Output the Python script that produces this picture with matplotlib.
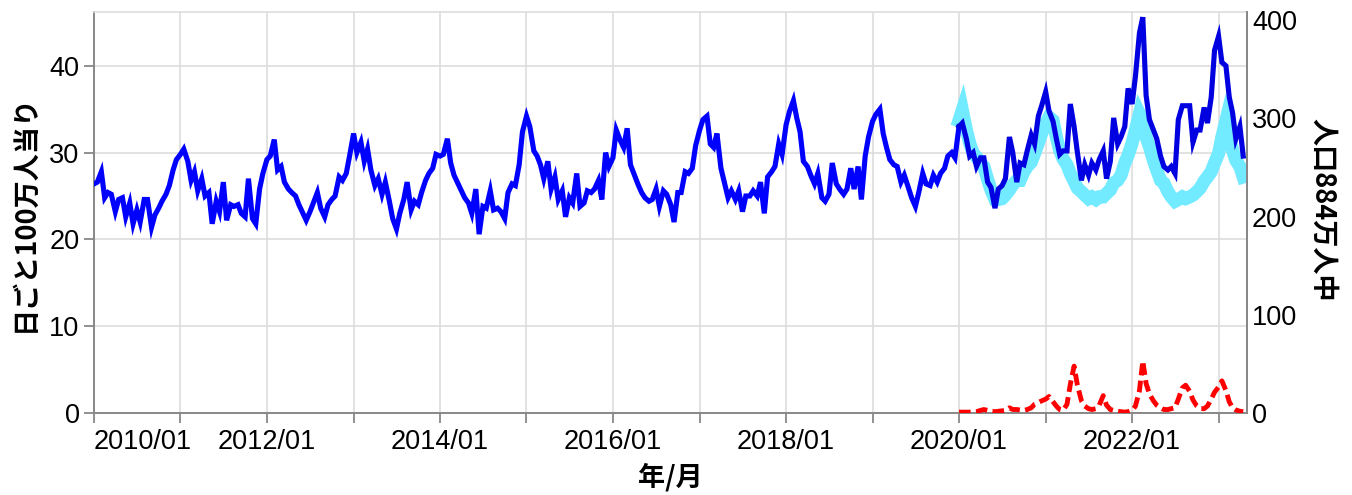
import matplotlib
matplotlib.use("Agg")
import matplotlib.pyplot as plt
import pandas as pd

# ---------------------------------------------------------------------------
# Data (semi-monthly samples, per million per day)
# ---------------------------------------------------------------------------

# all-cause deaths, 2010/01 .. 2019/12 (24 samples per year)
blue_pre = [
    26.4, 26.6, 27.8, 24.8, 25.4, 25.2, 23.2, 24.6, 24.8, 22.6, 24.2, 21.8,
    23.4, 22.0, 24.6, 24.6, 21.4, 22.8, 23.6, 24.4, 25.2, 26.2, 28.0, 29.2,
    29.8, 30.4, 29.0, 26.8, 27.8, 25.6, 27.0, 25.0, 25.4, 21.8, 24.4, 23.2,
    26.6, 22.2, 24.0, 23.8, 24.0, 23.0, 22.6, 27.0, 22.4, 21.8, 25.8, 27.6,
    29.2, 29.6, 31.5, 28.0, 28.4, 26.6, 25.8, 25.4, 25.0, 24.0, 23.0, 22.2,
    23.2, 24.2, 25.4, 23.6, 22.6, 24.0, 24.6, 25.0, 27.2, 26.8, 27.6, 29.6,
    32.2, 30.0, 31.2, 29.0, 30.4, 28.0, 26.2, 27.0, 25.2, 26.6, 24.4, 22.4,
    21.2, 23.0, 24.6, 26.6, 23.4, 24.4, 24.0, 25.4, 26.8, 27.6, 28.2, 29.8,
    29.6, 29.8, 31.6, 28.8, 27.4, 26.6, 25.6, 24.8, 24.2, 23.0, 25.8, 20.6,
    23.8, 23.6, 25.6, 23.4, 23.6, 23.2, 22.4, 25.4, 26.4, 26.2, 28.6, 32.4,
    34.2, 33.0, 30.2, 29.6, 28.6, 27.0, 29.0, 25.8, 27.2, 24.6, 25.6, 22.6,
    24.8, 24.2, 27.6, 23.8, 24.2, 25.6, 25.4, 25.8, 26.8, 24.6, 30.0, 28.4,
    29.4, 32.6, 31.4, 30.6, 32.8, 28.6, 27.4, 26.4, 25.4, 24.8, 24.4, 24.6,
    25.8, 23.8, 25.6, 25.2, 24.0, 22.0, 25.4, 25.4, 27.8, 27.6, 28.2, 30.8,
    32.6, 33.8, 34.2, 31.0, 30.6, 32.2, 28.2, 26.6, 24.8, 25.6, 24.6, 25.6,
    23.2, 25.0, 25.0, 25.6, 25.0, 26.6, 23.0, 27.2, 27.8, 28.4, 31.0, 29.8,
    33.2, 34.7, 36.0, 34.0, 32.4, 29.0, 28.4, 27.4, 26.4, 27.6, 24.8, 24.4,
    25.2, 28.8, 26.4, 25.8, 25.2, 25.8, 28.2, 25.8, 28.4, 24.6, 29.6, 31.8,
    33.6, 34.4, 35.0, 32.2, 30.6, 29.2, 28.6, 28.4, 26.6, 27.4, 26.0, 24.8,
    23.8, 25.4, 27.6, 26.4, 26.2, 27.4, 26.6, 27.6, 28.2, 29.6, 30.0, 29.4,
]

# all-cause deaths, 2020/01 .. 2023/04
blue_post = [
    33.0, 33.4, 31.6, 29.6, 30.0, 28.4, 29.4, 29.4, 26.6, 26.0, 23.6, 25.8,
    26.2, 27.0, 31.8, 30.0, 26.6, 28.8, 28.6, 30.2, 32.0, 31.0, 34.2, 35.4,
    37.0, 34.8, 33.6, 31.6, 29.8, 30.2, 30.2, 35.6, 33.0, 30.0, 26.8, 28.6,
    27.4, 28.8, 28.0, 29.2, 30.2, 27.0, 29.0, 34.0, 31.0, 31.8, 33.0, 37.4,
    35.6, 38.8, 43.8, 45.6, 36.6, 33.8, 32.6, 31.6, 29.6, 28.4, 28.0, 28.4,
    27.6, 33.8, 35.4, 35.4, 35.4, 31.2, 32.6, 32.6, 35.2, 33.4, 36.4, 41.8,
    43.4, 40.4, 40.0, 36.4, 34.6, 31.6, 33.0, 29.6,
]

# expected deaths (baseline), 2020/01 .. 2023/04
cyan_base = [
    33.7, 34.9, 32.6, 31.1, 29.9, 29.5, 28.8, 28.4, 26.9, 25.7, 24.6, 24.6,
    24.7, 25.1, 25.7, 26.3, 26.8, 26.8, 27.8, 28.4, 28.9, 29.9, 31.1, 32.2,
    33.4, 34.1, 33.7, 31.8, 30.3, 29.3, 28.6, 27.6, 26.7, 25.9, 25.5, 25.1,
    24.7, 24.9, 24.6, 24.9, 24.9, 25.3, 25.7, 26.5, 26.8, 27.4, 28.8, 29.7,
    31.1, 32.6, 34.5, 33.7, 31.8, 30.7, 29.1, 28.0, 26.8, 26.5, 25.5, 24.9,
    24.4, 24.6, 24.9, 24.7, 24.9, 25.1, 25.5, 25.9, 26.7, 27.2, 27.8, 28.8,
    29.9, 31.8, 33.7, 32.2, 30.3, 29.1, 28.4, 27.2,
]

# covid deaths, 2020/01 .. 2023/04
red_covid = [
    0.1, 0.1, 0.1, 0.1, 0.1, 0.15, 0.3, 0.4, 0.3, 0.2, 0.15, 0.2,
    0.25, 0.3, 0.6, 0.4, 0.4, 0.35, 0.3, 0.4, 0.6, 1.0, 1.2, 1.4,
    1.6, 1.9, 1.3, 0.8, 0.4, 0.3, 1.0, 3.3, 5.4, 3.2, 1.4, 0.8,
    0.5, 0.4, 0.5, 0.9, 2.0, 0.9, 0.4, 0.3, 0.2, 0.15, 0.1, 0.15,
    0.3, 0.8, 2.6, 6.0, 3.4, 2.2, 1.4, 0.9, 0.6, 0.4, 0.4, 0.5,
    0.6, 1.6, 2.9, 3.2, 2.5, 1.5, 0.8, 0.5, 0.5, 0.8, 1.6, 2.4,
    3.0, 3.7, 2.6, 1.3, 0.6, 0.35, 0.2, 0.15,
]

POPULATION_FACTOR = 8.84      # right axis = left axis * 8.84
Y_TOP = 46.2

years = list(range(2010, 2024))
year_labels = [f"{y}/01" if y % 2 == 0 else "" for y in years]

# ---------------------------------------------------------------------------
# Figure
# ---------------------------------------------------------------------------
W, H, DPI = 1352, 495, 100
fig = plt.figure(figsize=(W / DPI, H / DPI), dpi=DPI)
ax = fig.add_axes([94 / W, 1 - 413 / H, (1247 - 94) / W, (413 - 12) / H])

blue_all = blue_pre + blue_post
dates_all = pd.date_range("2010-01-01", periods=len(blue_all), freq="SMS")
dates_post = pd.date_range("2020-01-01", periods=len(blue_post), freq="SMS")
n_pre = len(blue_pre)

ax.plot(dates_post, cyan_base, color="#72eaff", lw=9.5, solid_joinstyle="miter",
        zorder=2)
ax.plot(dates_all[:n_pre + 1], blue_all[:n_pre + 1], color="#0000ff", lw=3.7,
        solid_joinstyle="miter", zorder=3)
ax.plot(dates_all[n_pre:], blue_all[n_pre:], color="#0000e0", lw=3.7,
        solid_joinstyle="miter", zorder=3)
red_line, = ax.plot(dates_post, red_covid, color="#ff0000", lw=3.5, zorder=4)
red_line.set_dashes([2.4, 1.1])

ax.set_xlim(pd.Timestamp("2010-01-01"), pd.Timestamp("2023-05-01"))
ax.set_ylim(0, Y_TOP)

ax.set_xticks([pd.Timestamp(f"{y}-01-01") for y in years])
ax.set_xticklabels(year_labels)
ax.xaxis.get_ticklabels()[0].set_horizontalalignment("left")
ax.set_yticks([0, 10, 20, 30, 40])

tick_font = "Liberation Sans"
for lab in ax.get_xticklabels() + ax.get_yticklabels():
    lab.set_fontfamily(tick_font)
    lab.set_fontsize(19.5)

ax.tick_params(axis="x", length=7.2, width=1.3, color="#888888", pad=4.0)
ax.tick_params(axis="y", length=7.2, width=1.3, color="#888888", pad=3.2)
ax.grid(True, color="#dddddd", lw=1.2, zorder=0)
ax.set_axisbelow(True)

for side in ("left", "bottom", "right"):
    ax.spines[side].set_color("#888888")
    ax.spines[side].set_linewidth(1.4)
ax.spines["top"].set_color("#dddddd")
ax.spines["top"].set_linewidth(1.2)

# right axis: same scale, multiplied by population
ax2 = ax.twinx()
ax2.set_ylim(0, Y_TOP * POPULATION_FACTOR)
ax2.set_yticks([0, 100, 200, 300, 400])
for lab in ax2.get_yticklabels():
    lab.set_fontfamily(tick_font)
    lab.set_fontsize(19.5)
ax2.tick_params(axis="y", length=0, pad=3.6)
for side in ("left", "bottom", "top"):
    ax2.spines[side].set_visible(False)
ax2.spines["right"].set_color("#888888")
ax2.spines["right"].set_linewidth(1.4)

cjk = ["Noto Sans CJK JP", "DejaVu Sans"]
fig.text(25 / W, 1 - 213 / H, "日ごと100万人当り", rotation=90, ha="center",
         va="center", fontsize=19.5, fontweight="bold", family=cjk)
fig.text(1323 / W, 1 - 210 / H, "人口884万人中", rotation=270, ha="center",
         va="center", fontsize=19.5, fontweight="bold", family=cjk)
fig.text(670 / W, 1 - 477 / H, "年/月", ha="center", va="center",
         fontsize=19.5, fontweight="bold", family=cjk)

fig.savefig("out.png", dpi=DPI)
